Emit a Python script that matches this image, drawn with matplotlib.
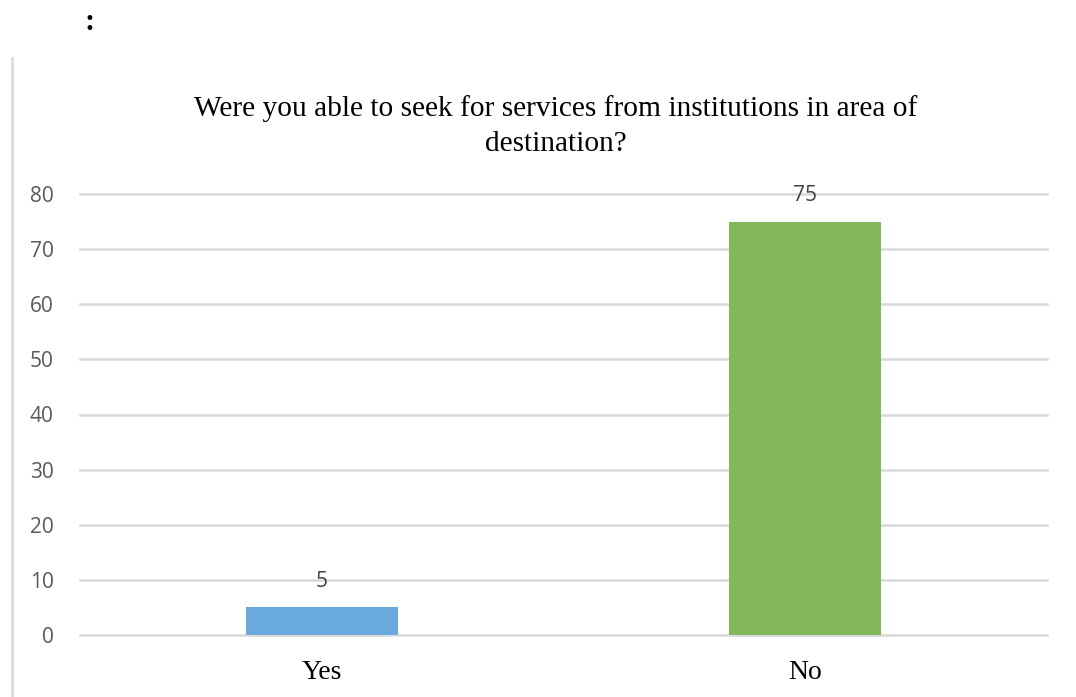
import matplotlib.pyplot as plt
from matplotlib.lines import Line2D

categories = ['Yes', 'No']
counts = [5, 75]
bar_colors = ['#6AAADE', '#82B85A']
yticks = [0, 10, 20, 30, 40, 50, 60, 70, 80]

fig = plt.figure(figsize=(10.76, 6.97), dpi=100)
ax = fig.add_axes([80 / 1076, 62 / 697, 967 / 1076, 441 / 697])

x = range(len(categories))
bars = ax.bar(x, counts, width=0.314, color=bar_colors, zorder=3)

# value labels above each bar
for b, v in zip(bars, counts):
    ax.annotate(str(v), (b.get_x() + b.get_width() / 2, v),
                xytext=(0, 11), textcoords='offset points',
                ha='center', va='bottom', fontsize=15,
                family='Open Sans', color='#404040')

ax.set_xlim(-0.5, 1.5)
ax.set_ylim(0, 80)
ax.set_yticks(yticks)
ax.set_xticks(list(x))
ax.set_xticklabels(categories, family='Liberation Serif', fontsize=20, color='black')
ax.tick_params(axis='x', length=0, pad=18)
ax.tick_params(axis='y', length=0, pad=19, labelsize=15, labelcolor='#595959')
for lab in ax.get_yticklabels():
    lab.set_family('Open Sans')

ax.grid(axis='y', color='#D9D9D9', linewidth=1.8, zorder=0)
for gl in ax.get_ygridlines():
    gl.set_clip_on(False)
for s in ax.spines.values():
    s.set_visible(False)

fig.text(556 / 1076, 1 - 126 / 697,
         'Were you able to seek for services from institutions in area of\ndestination?',
         ha='center', va='center', family='Liberation Serif', fontsize=21.2,
         linespacing=1.42)

# stray colon and the frame edge on the left
fig.text(90 / 1076, 1 - 22 / 697, ':', ha='center', va='center',
         family='Liberation Serif', fontsize=22, fontweight='bold')
fig.add_artist(Line2D([12 / 1076, 12 / 1076], [0, 1 - 58 / 697],
                      color='#D9D9D9', linewidth=1.8))

fig.savefig('out.png', dpi=100)
